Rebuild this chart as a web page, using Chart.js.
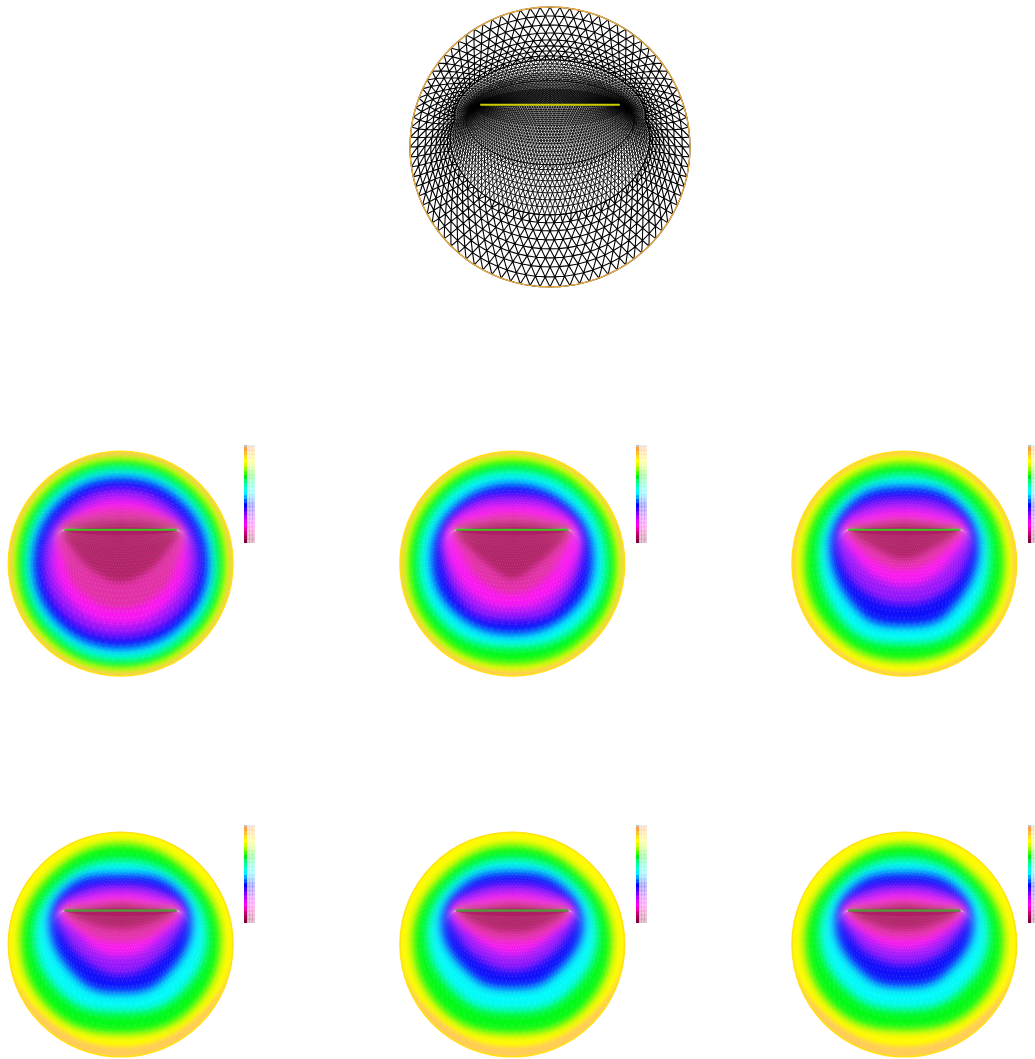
<!DOCTYPE html>
<html><head><meta charset="utf-8">
<style>html,body{margin:0;background:#fff;overflow:hidden;width:1035px;height:1059px}canvas{position:absolute}</style>
<script src="https://cdn.jsdelivr.net/npm/chart.js@4"></script></head><body>
<script>
// Field bands, outermost to innermost; every disc uses a radius of 337 units.
const bandColors=['rgb(255,205,85)','rgb(255,250,0)','rgb(0,250,20)','rgb(0,250,250)','rgb(10,10,250)','rgb(150,20,250)','rgb(250,20,240)','rgb(225,45,165)','rgb(175,28,100)'];
const bandBlur=[2,4,5,5,4.5,4.5,3.5,3];
// Right half of each contour, top to bottom (mirrored for the left half).
const panel1Contours=[
[[0,322],[230,230],[325,0],[230,-230],[0,-325]],
[[0,312],[221,221],[312,0],[221,-221],[0,-312]],
[[0,288],[204,204],[288,0],[204,-204],[0,-290]],
[[0,258],[185,185],[263,0],[184,-182],[0,-254]],
[[0,228],[165,160],[233,0],[162,-160],[0,-222]],
[[0,195],[145,140],[203,10],[135,-130],[0,-185]],
[[0,163],[115,145],[185,100],[172,10],[120,-85],[0,-135]],
[[0,130],[100,125],[172,103],[140,40],[85,-20],[0,-55]]];
const panel2Contours=[
[[0,326],[231,231],[326,0],[230,-230],[0,-322]],
[[0,311],[220,220],[312,0],[222,-218],[0,-302]],
[[0,280],[200,200],[282,0],[195,-190],[0,-252]],
[[0,240],[175,170],[243,15],[175,-145],[0,-212]],
[[0,208],[145,170],[212,50],[140,-130],[0,-172]],
[[0,178],[120,160],[195,100],[187,0],[110,-105],[0,-137]],
[[0,150],[100,135],[175,105],[150,30],[95,-50],[0,-92]],
[[0,125],[90,120],[170,103],[125,45],[70,-5],[0,-45]]];
const panel3Contours=[
[[0,326],[231,231],[326,0],[230,-230],[0,-325]],
[[0,303],[215,215],[300,0],[210,-210],[0,-292]],
[[0,268],[185,195],[258,20],[170,-190],[0,-242]],
[[0,231],[150,190],[224,40],[130,-150],[0,-187]],
[[0,198],[130,175],[195,100],[185,0],[110,-90],[0,-122]],
[[0,166],[115,148],[185,103],[140,10],[80,-45],[0,-67]],
[[0,138],[95,125],[172,103],[120,35],[60,-5],[0,-17]],
[[0,123],[85,117],[165,103],[90,50],[0,13]]];
const panel4Contours=[
[[0,345],[250,250],[340,0],[235,-210],[0,-307]],
[[0,303],[210,210],[300,10],[205,-200],[0,-267]],
[[0,253],[180,190],[260,20],[165,-160],[0,-205]],
[[0,210],[150,180],[214,50],[120,-110],[0,-145]],
[[0,181],[125,160],[190,103],[165,20],[90,-60],[0,-92]],
[[0,155],[110,138],[182,103],[125,30],[65,-22],[0,-37]],
[[0,133],[90,122],[170,103],[95,28],[0,8]],
[[0,120],[80,113],[165,102],[80,60],[0,48]]];
const panel5Contours=[
[[0,345],[250,250],[340,0],[235,-210],[0,-307]],
[[0,298],[208,208],[298,10],[205,-200],[0,-267]],
[[0,258],[180,190],[256,20],[160,-155],[0,-202]],
[[0,218],[145,180],[213,50],[115,-100],[0,-132]],
[[0,183],[125,160],[188,103],[160,20],[90,-50],[0,-79]],
[[0,155],[110,138],[180,103],[120,28],[62,-16],[0,-32]],
[[0,133],[90,122],[170,103],[95,28],[0,8]],
[[0,118],[80,112],[165,102],[80,52],[0,38]]];
const panel6Contours=[
[[0,345],[250,250],[340,0],[235,-210],[0,-305]],
[[0,301],[208,208],[298,10],[205,-195],[0,-257]],
[[0,258],[180,190],[254,20],[158,-150],[0,-197]],
[[0,215],[145,180],[208,50],[115,-95],[0,-127]],
[[0,181],[125,160],[188,103],[158,25],[88,-40],[0,-62]],
[[0,155],[110,138],[180,103],[120,30],[62,-6],[0,-17]],
[[0,133],[90,122],[170,103],[95,36],[0,18]],
[[0,120],[80,113],[165,102],[80,58],[0,45]]];
const panelContours=[panel1Contours,panel2Contours,panel3Contours,panel4Contours,panel5Contours,panel6Contours];
const panelCentreX=[121,512,904,121,512,904];
const panelCentreY=[564,564,564,944,944,944];
const panelShiftX=[1,-1,-1,1,-1,-1];
const panelShiftY=[-1,-1,-1,1.5,1.5,1.5];
const segmentColor=['rgb(60,200,30)','rgb(60,200,30)','rgb(60,200,30)','rgb(85,150,60)','rgb(85,150,60)','rgb(85,150,60)'];
const segmentWidth=[2,2,2,2.5,2.5,2.5];
const crackX=[-168,168];
const crackY=[102,102];
const discRadius=337;
// Colour-bar stops, top to bottom, with the height of each stop.
const barStops=[[190,190,190],[255,160,60],[255,190,50],[255,225,30],[255,255,0],[215,255,0],[150,255,0],[60,255,0],[0,235,30],[0,255,110],[0,255,170],[0,255,225],[0,240,255],[0,170,255],[0,90,255],[0,0,255],[60,0,255],[120,0,255],[180,0,255],[230,0,255],[255,0,240],[240,0,170],[200,0,120],[160,0,80],[130,0,60]];
const barStopHeights=[0.4,1,1,1,1,1,1,1,1,1,1,1,1,1,1,1,1,1,1,1,1,1,1,1,1];
const barLeft=[244,636,1028,244,636,1028];
const barTop=[445,445,445,825,825,825];
const barCols=['sat','pale1','pale2','pale3'];
// Mesh: distance of each node ring from the rim, in image pixels, read along three directions.
const ringNodes=[88,88,88,88,88,88,88,88,132,132,132,132,132,132,132,132,176,176,176,176,176,176,176,176,176,176,176,176,176,176,176,176,176,176,176,176,176,176];
const ringDistTop=[0,9,18,26,33,39,44,49,53,57,60,63,66,68,70,72,74,76,77.5,79,80.5,82,83,84,85,86,87,88,89,90,91,92,93,94,95,96,97,98];
const ringDistSide=[0,8,16,23,29,34,38,42,45,48,50,52,54,55.5,57,58,59,60,60.8,61.6,62.4,63.2,64,64.6,65.2,65.8,66.4,67,67.5,68,68.4,68.8,69.1,69.3,69.5,69.7,69.9,70];
const ringDistBottom=[0,10,20,29,38,47,56,64,72,80,87,94,100,106,112,117,122,127,131,135,139,143,146,149,152,155,158,161,163,165,167,169,171,173,175,177,179.5,182];
const meshUnitsPerPixel=337/140;

function phase(k,i){ return (i+(k%2)/2)/ringNodes[k]; }
function node(k,i){
  const last=ringDistTop.length-1;
  const a=2*Math.PI*phase(k,i)+Math.PI/2;
  const c=Math.cos(a),s=Math.sin(a),w=Math.abs(s);
  const du=s>0?ringDistTop[k]:ringDistBottom[k];
  const gu=s>0?ringDistTop[last]:ringDistBottom[last];
  const d=w*du+(1-w)*ringDistSide[k];
  const g=w*gu+(1-w)*ringDistSide[last];
  const f=d/g;
  const rx=discRadius*c,ry=discRadius*s,sx=crackX[1]*c,sy=crackY[0];
  return {x:rx+f*(sx-rx),y:ry+f*(sy-ry)};
}
function buildMesh(from,K){
  const out=[],gap={x:null,y:null};
  for(let k=from;k<K;k++){
    const n=ringNodes[k],ns=[];
    for(let i=0;i<n;i++)ns.push(node(k,i));
    ns.forEach(p=>out.push(p));out.push(ns[0],gap);
    if(k===K-1)break;
    const m=ringNodes[k+1],ps=[];
    for(let i=0;i<m;i++)ps.push(node(k+1,i));
    let a=0,b=0;
    while(a<n||b<m){
      out.push(ns[a%n],ps[b%m],gap);
      const fa=phase(k,a+1),fb=phase(k+1,b+1);
      if(a>=n)b++; else if(b>=m)a++; else if(fa<fb)a++; else b++;
    }
  }
  return out;
}
const meshOuter=buildMesh(0,9);
const meshMiddle=buildMesh(8,17);
const meshInner=buildMesh(16,ringNodes.length);
const overlayPoints=buildMesh(0,35);

function closedShape(h){
  const m=p=>({x:-p[0],y:p[1]}),o=p=>({x:p[0],y:p[1]}),r=[m(h[1])];
  h.forEach(p=>r.push(o(p)));
  for(let i=h.length-2;i>=1;i--)r.push(m(h[i]));
  r.push(o(h[0]),o(h[1]));
  return r;
}
function mk(left,top,w,h){
  const c=document.createElement('canvas');
  c.width=w;c.height=h;c.style.left=left+'px';c.style.top=top+'px';
  document.body.appendChild(c);return c;
}
function pxRadius(ctx){
  const s=ctx.chart.scales.x;return Math.abs(s.getPixelForValue(discRadius)-s.getPixelForValue(0));
}
const baseOpts=(lim,dx,dy)=>({responsive:false,animation:false,devicePixelRatio:1,events:[],
  layout:{padding:0},plugins:{legend:{display:false},tooltip:{enabled:false}},
  scales:{x:{type:'linear',display:false,min:-lim+(dx||0),max:lim+(dx||0)},y:{type:'linear',display:false,min:-lim+(dy||0),max:lim+(dy||0)}}});
const rimSet=(color,width)=>({data:[{x:0,y:0}],showLine:false,pointStyle:'circle',pointRadius:pxRadius,pointBackgroundColor:'rgba(0,0,0,0)',pointBorderColor:color,pointBorderWidth:width});
const crackSet=(color,width)=>({data:[{x:crackX[0],y:crackY[0]},{x:crackX[1],y:crackY[1]}],showLine:true,borderColor:color,borderWidth:width,pointRadius:0,borderCapStyle:'butt'});
const meshSet=(pts,color,width)=>({data:pts,showLine:true,spanGaps:false,tension:0.0001,borderColor:color,borderWidth:width,pointRadius:0,fill:false});

// Top mesh
new Chart(mk(405,2,290,290),{type:'scatter',data:{datasets:[
  crackSet('rgb(205,205,0)',2),
  rimSet('rgb(232,172,70)',1.4),
  meshSet(meshOuter,'rgb(0,0,0)',1.1),
  meshSet(meshMiddle,'rgb(0,0,0)',1.0),
  meshSet(meshInner,'rgb(0,0,0)',0.9)
]},options:baseOpts(145*meshUnitsPerPixel)});

// Field panels
const firstBand=3,lastBand=10;
const softBands={id:'softBands',
  beforeDatasetsDraw(chart){
    const ctx=chart.ctx,x=chart.scales.x,y=chart.scales.y;
    ctx.save();ctx.beginPath();
    ctx.arc(x.getPixelForValue(0),y.getPixelForValue(0),Math.abs(x.getPixelForValue(discRadius)-x.getPixelForValue(0)),0,Math.PI*2);
    ctx.clip();
  },
  afterDatasetDraw(chart,args){
    const i=args.index,ctx=chart.ctx;
    if(i===firstBand){ctx.restore();return;}
    const next=i-1;
    if(next>=firstBand&&next<=lastBand)ctx.filter='blur('+bandBlur[lastBand-next]+'px)';
  }
};
const wash=[[-360,360],[360,360],[360,-360],[-360,-360]];
panelContours.forEach((cont,p)=>{
  const bands=[];
  for(let i=cont.length-1;i>=0;i--)
    bands.push({data:closedShape(cont[i]),showLine:true,fill:'shape',tension:0.4,backgroundColor:bandColors[i+1],borderWidth:0,borderColor:'rgba(0,0,0,0)',pointRadius:0});
  bands.push({data:wash.map(q=>({x:q[0],y:q[1]})),showLine:true,fill:'shape',backgroundColor:bandColors[0],borderWidth:0,borderColor:'rgba(0,0,0,0)',pointRadius:0});
  new Chart(mk(panelCentreX[p]-115,panelCentreY[p]-115,230,230),{type:'scatter',plugins:[softBands],data:{datasets:[
    rimSet('rgb(255,225,20)',1.5),
    crackSet(segmentColor[p],segmentWidth[p]),
    meshSet(overlayPoints,'rgba(255,255,255,0.11)',0.5),
    ...bands
  ]},options:baseOpts(345,panelShiftX[p],panelShiftY[p])});
  // Colour bar
  const ds=barStops.map((s,j)=>{
    const sat=`rgb(${s[0]},${s[1]},${s[2]})`,pale=`rgba(${s[0]},${s[1]},${s[2]},0.22)`;
    return {data:barCols.map(()=>barStopHeights[j]),backgroundColor:[sat,pale,pale,pale],borderWidth:0,categoryPercentage:1,barPercentage:1};
  });
  const o=baseOpts(1);
  o.scales={x:{type:'category',display:false,stacked:true},y:{type:'linear',display:false,stacked:true,reverse:true,min:0,max:barStopHeights.reduce((a,b)=>a+b,0)}};
  new Chart(mk(barLeft[p],barTop[p],11,98),{type:'bar',data:{labels:barCols,datasets:ds},options:o});
});
</script></body></html>
